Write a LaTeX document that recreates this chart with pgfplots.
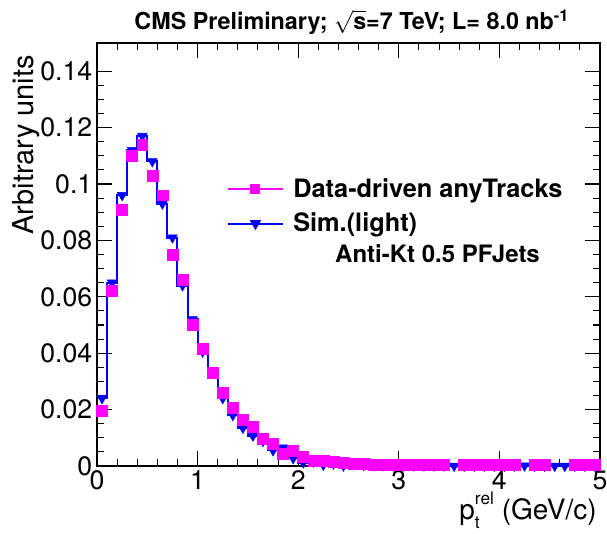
\documentclass[border=0pt]{standalone}
\usepackage{pgfplots}
\pgfplotsset{compat=1.18}
\usepackage{pgfplotstable}
\usepackage{fontspec}
\setmainfont{TeX Gyre Heros}
\definecolor{rootmag}{rgb}{1,0,1}
\definecolor{rootblue}{rgb}{0,0,1}

\pgfplotstableread{
x sim data
0.05 0.0240 0.0195
0.15 0.0650 0.0620
0.25 0.0960 0.0910
0.35 0.1120 0.1100
0.45 0.1170 0.1140
0.55 0.1080 0.1030
0.65 0.0930 0.0960
0.75 0.0810 0.0750
0.85 0.0640 0.0660
0.95 0.0520 0.0500
1.05 0.0405 0.0415
1.15 0.0335 0.0330
1.25 0.0240 0.0260
1.35 0.0180 0.0207
1.45 0.0135 0.0165
1.55 0.0107 0.0140
1.65 0.0088 0.0095
1.75 0.0055 0.0080
1.85 0.0065 0.0044
1.95 0.0027 0.0055
2.05 0.0012 0.0034
2.15 0.0015 0.0020
2.25 0.0004 0.0019
2.35 0.0008 0.0015
2.45 0.0001 0.0011
2.55 0.0005 0.0008
2.65 0.0003 0.0007
2.75 0.0002 0.0006
2.85 0.0002 0.0005
2.95 0.0001 0.0005
3.05 0.0001 0.0004
3.15 0.0001 0.0004
3.25 0.0001 0.0003
3.35 0.0001 0.0003
3.45 0.0001 0.0003
3.55 0.0000 nan
3.65 0.0000 0.0003
3.75 0.0000 0.0003
3.85 0.0000 0.0003
3.95 0.0000 0.0003
4.05 0.0000 0.0003
4.15 0.0000 0.0003
4.25 0.0001 nan
4.35 0.0000 0.0003
4.45 0.0000 0.0003
4.55 0.0000 nan
4.65 0.0000 nan
4.75 0.0000 0.0003
4.85 0.0000 0.0003
4.95 0.0000 0.0003
}\hist

\begin{document}
\begin{tikzpicture}
\useasboundingbox (0pt,0pt) rectangle (455.25pt,400.5pt);
\begin{axis}[
  at={(72.75pt,51pt)}, anchor=south west,
  scale only axis, width=377.25pt, height=317.25pt,
  xmin=0, xmax=5, ymin=0, ymax=0.15,
  clip=false,
  xtick={0,1,2,3,4,5}, minor x tick num=4,
  ytick={0,0.02,0.04,0.06,0.08,0.1,0.12,0.14}, minor y tick num=3,
  yticklabels={0,0.02,0.04,0.06,0.08,0.1,0.12,0.14},
  xticklabels={0,1,2,3,4,5},
  scaled y ticks=false,
  tick align=inside, xtick pos=both, ytick pos=both,
  major tick length=11pt, minor tick length=5.5pt,
  tick style={black, line width=0.8pt},
  axis line style={black, line width=1pt},
  ticklabel style={font=\fontsize{20}{24}\selectfont},
  /pgf/number format/assume math mode=true,
  legend style={at={(0.25,0.692)}, anchor=north west, draw=none, fill=none,
    font=\fontsize{19}{22}\selectfont\bfseries, row sep=6pt, column sep=5pt,
    nodes={inner sep=2pt}},
  legend cell align=left,
  legend image code/.code={\draw[mark repeat=2,mark phase=2] plot coordinates {(0pt,0pt) (20.6pt,0pt) (41.2pt,0pt)};},
]
\addlegendimage{rootmag, line width=1.5pt, mark=square*, mark size=3pt}
\addlegendentry{Data-driven anyTracks}
\addlegendimage{rootblue, line width=1.5pt, mark=triangle*, mark size=3.5pt, mark options={rotate=180}}
\addlegendentry{Sim.(light)}

\addplot[rootblue, line width=1.5pt, const plot, forget plot] table[x expr=\thisrow{x}-0.05, y=sim]{\hist};
\addplot[only marks, mark=triangle*, mark size=4.2pt, mark options={rotate=180, fill=rootblue, draw=rootblue}, forget plot] table[x=x, y=sim]{\hist};
\addplot[only marks, mark=square*, mark size=4.1pt, mark options={fill=rootmag, draw=rootmag}, forget plot] table[x=x, y=data]{\hist};

\node[anchor=base, inner sep=0pt, font=\fontsize{17.5}{20}\selectfont\bfseries] at ([xshift=2.5pt, yshift=10pt]rel axis cs:0.5,1) {CMS Preliminary; $\smash{\sqrt{\mbox{\bfseries s}}}$=7 TeV; L= 8.0 nb\textsuperscript{-1}};
\node[anchor=base east, rotate=90, inner sep=0pt, font=\fontsize{21.7}{24}\selectfont] at ([xshift=-47.5pt, yshift=-9pt]rel axis cs:0,1) {Arbitrary units};
\node[anchor=base east, inner sep=0pt, font=\fontsize{21}{24}\selectfont] at ([xshift=-2.25pt, yshift=-40.5pt]rel axis cs:1,0) {p\rlap{\raisebox{-0.3em}{\fontsize{13}{13}\selectfont t}}\raisebox{0.55em}{\fontsize{13}{13}\selectfont rel} (GeV/c)};
\node[anchor=base west, inner sep=0pt, font=\fontsize{18}{20}\selectfont\bfseries] at (rel axis cs:0.473,0.482) {Anti-Kt 0.5 PFJets};
\end{axis}
\end{tikzpicture}
\end{document}
